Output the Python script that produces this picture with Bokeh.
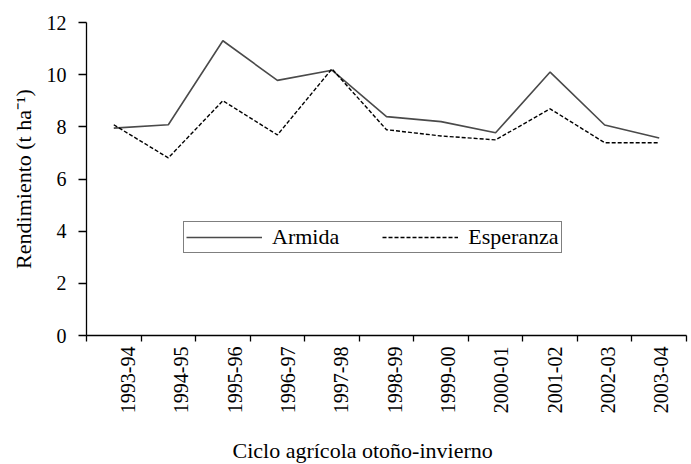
import numpy as np
from bokeh.plotting import figure
from bokeh.models import (Range1d, FixedTicker, CustomJSTickFormatter, Legend, LegendItem, Title)
from bokeh.embed import file_html
from bokeh.resources import INLINE

cycles = ["1993-94", "1994-95", "1995-96", "1996-97", "1997-98", "1998-99",
          "1999-00", "2000-01", "2001-02", "2002-03", "2003-04"]
armida = [7.95, 8.08, 11.3, 9.78, 10.17, 8.39, 8.2, 7.77, 10.1, 8.07, 7.57]
esperanza = [8.08, 6.81, 9.0, 7.69, 10.22, 7.89, 7.65, 7.5, 8.69, 7.39, 7.39]
y_ticks = [0, 2, 4, 6, 8, 10, 12]

FONT = "Liberation Serif"
FS_TICK = "20px"
FS = "22px"

n = len(cycles)
x = list(range(1, n + 1))
boundaries = [i + 0.5 for i in range(0, n + 1)]
label_pos = [1.26 + 0.978 * k for k in range(n)]

p = figure(width=691, height=464, output_backend="svg", toolbar_location=None,
           x_range=Range1d(0.5, n + 0.5), y_range=Range1d(0, 12),
           min_border_left=86, min_border_top=22, min_border_right=5,
           min_border_bottom=129, frame_width=600, frame_height=313)
p.outline_line_color = None
p.xgrid.grid_line_color = None
p.ygrid.grid_line_color = None
p.background_fill_color = "white"
p.border_fill_color = "white"

r1 = p.line(x, armida, line_color="#4a4a4a", line_width=1.6)
r2 = p.line(x, esperanza, line_color="black", line_width=1.4, line_dash="4 2")

# x axis
xa = p.xaxis[0]
xa.ticker = FixedTicker(ticks=label_pos, minor_ticks=boundaries)
xa.formatter = CustomJSTickFormatter(args=dict(labels=cycles), code="return labels[index];")
xa.major_tick_line_color = None
xa.major_tick_in = 0
xa.major_tick_out = 6
xa.minor_tick_line_color = "black"
xa.minor_tick_line_width = 1.3
xa.minor_tick_in = 0
xa.minor_tick_out = 6
xa.axis_line_color = "black"
xa.axis_line_width = 1.3
xa.major_label_orientation = np.pi / 2
xa.major_label_standoff = 5
xa.major_label_text_font = FONT
xa.major_label_text_font_size = FS_TICK
xa.major_label_text_color = "black"

xtitle = Title(text="Ciclo agrícola otoño-invierno", align="left", offset=146,
               text_font=FONT, text_font_size=FS, text_font_style="normal",
               text_color="black", standoff=38)
p.add_layout(xtitle, "below")

# y axis
ya = p.yaxis[0]
ya.ticker = FixedTicker(ticks=y_ticks)
ya.minor_tick_line_color = None
ya.major_tick_in = 0
ya.major_tick_out = 8
ya.major_tick_line_color = "black"
ya.major_tick_line_width = 1.3
ya.axis_line_color = "black"
ya.axis_line_width = 1.3
ya.major_label_standoff = 12
ya.major_label_text_font = FONT
ya.major_label_text_font_size = FS_TICK
ya.major_label_text_color = "black"
ya.axis_label = "Rendimiento (t ha\u207b\u00b9)"
ya.axis_label_text_font = FONT
ya.axis_label_text_font_size = FS
ya.axis_label_text_font_style = "normal"
ya.axis_label_text_color = "black"
ya.axis_label_standoff = 8

legend = Legend(items=[LegendItem(label="Armida", renderers=[r1]),
                       LegendItem(label="Esperanza", renderers=[r2])],
                orientation="horizontal", location=(97, 82))
legend.border_line_color = "black"
legend.border_line_width = 1.3
legend.background_fill_color = "white"
legend.background_fill_alpha = 1
legend.label_text_font = FONT
legend.label_text_font_size = FS
legend.label_text_color = "black"
legend.glyph_width = 76
legend.glyph_height = 20
legend.label_standoff = 10
legend.spacing = 43
legend.padding = 2
legend.margin = 0
p.add_layout(legend, "center")

open("out.html", "w").write(file_html(p, INLINE))
